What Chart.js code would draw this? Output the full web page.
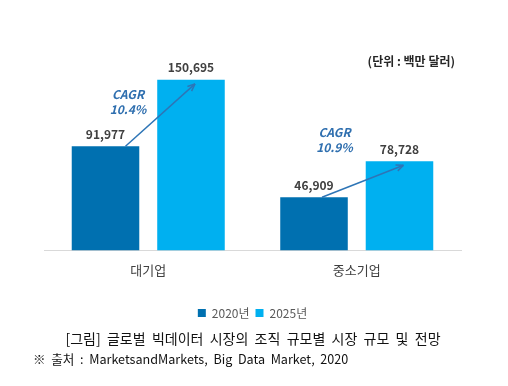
<!DOCTYPE html>
<html>
<head>
<meta charset="utf-8">
<script src="https://cdn.jsdelivr.net/npm/chart.js@4.4.1/dist/chart.umd.min.js"></script>
<style>
  html, body { margin: 0; padding: 0; background: #fff; }
  canvas { display: block; }
</style>
</head>
<body>
<canvas id="chart" width="508" height="386"></canvas>
<script>
const categories = ['대기업', '중소기업']
const seriesNames = ['2020년', '2025년']
const values2020 = [91977, 46909]
const values2025 = [150695, 78728]
const cagr = ['10.4%', '10.9%']
const unitText = '(단위 : 백만 달러)'
const caption = '[그림]  글로벌  빅데이터  시장의  조직  규모별  시장  규모  및  전망'
const source = '※  출처  :  MarketsandMarkets,  Big  Data  Market,  2020'

const KR = '"Noto Sans CJK KR", "Noto Sans", sans-serif'

// offsets of the CAGR text from the 2025 bar top, per group
const cagrOffset = [[-63, 15], [-65, -29]]

const annotate = {
  id: 'annotate',
  afterDatasetsDraw(chart) {
    const ctx = chart.ctx
    const m0 = chart.getDatasetMeta(0)
    const m1 = chart.getDatasetMeta(1)
    ctx.save()

    // value labels
    ctx.fillStyle = '#404040'
    ctx.font = 'bold 12px ' + KR
    ctx.textAlign = 'center'
    ctx.textBaseline = 'bottom'
    ;[m0, m1].forEach(function(meta, d) {
      meta.data.forEach(function(bar, i) {
        const v = chart.data.datasets[d].data[i]
        ctx.fillText(v.toLocaleString('en-US'), bar.x, bar.y - 6)
      })
    })

    // arrows + CAGR
    for (let i = 0; i < categories.length; i++) {
      const a = m0.data[i], b = m1.data[i]
      const x1 = a.x + (i === 0 ? 20 : 8), y1 = a.y
      const x2 = b.x + 4, y2 = b.y + 4
      ctx.strokeStyle = '#2E75B6'
      ctx.fillStyle = '#2E75B6'
      ctx.lineWidth = 1.5
      ctx.beginPath()
      ctx.moveTo(x1, y1)
      ctx.lineTo(x2, y2)
      ctx.stroke()
      const ang = Math.atan2(y2 - y1, x2 - x1)
      ctx.beginPath()
      ctx.moveTo(x2, y2)
      ctx.lineTo(x2 - 8 * Math.cos(ang - 0.4), y2 - 8 * Math.sin(ang - 0.4))
      ctx.moveTo(x2, y2)
      ctx.lineTo(x2 - 8 * Math.cos(ang + 0.4), y2 - 8 * Math.sin(ang + 0.4))
      ctx.stroke()

      ctx.fillStyle = '#2F6FAF'
      ctx.font = 'italic bold 12px ' + KR
      ctx.textAlign = 'center'
      ctx.textBaseline = 'middle'
      const cx = b.x + cagrOffset[i][0], cy = b.y + cagrOffset[i][1]
      ctx.fillText('CAGR', cx, cy)
      ctx.fillText(cagr[i], cx, cy + 15)
    }

    // unit
    ctx.fillStyle = '#262626'
    ctx.font = 'bold 12px ' + KR
    ctx.textAlign = 'right'
    ctx.textBaseline = 'middle'
    ctx.fillText(unitText, 455, 61)

    // caption and source
    ctx.fillStyle = '#111'
    ctx.font = '14px ' + KR
    ctx.textAlign = 'center'
    ctx.fillText(caption, 253, 339)
    ctx.font = '12.6px ' + KR
    ctx.textAlign = 'left'
    ctx.fillText(source, 33, 359)
    ctx.restore()
  }
}

new Chart(document.getElementById('chart'), {
  type: 'bar',
  data: {
    labels: categories,
    datasets: [
      { label: seriesNames[0], data: values2020, backgroundColor: '#0070B0', categoryPercentage: 0.82, barPercentage: 0.79 },
      { label: seriesNames[1], data: values2025, backgroundColor: '#00B0F0', categoryPercentage: 0.82, barPercentage: 0.79 }
    ]
  },
  options: {
    responsive: false,
    animation: false,
    layout: { padding: { left: 44, right: 47, top: 58, bottom: 57 } },
    scales: {
      x: {
        grid: { display: false },
        border: { color: '#D9D9D9', width: 1 },
        ticks: { color: '#404040', font: { family: KR, size: 13 }, padding: 4 },
        afterFit(scale) { scale.height += 19 }
      },
      y: { display: false, min: 0, max: 170000 }
    },
    plugins: {
      legend: {
        position: 'bottom',
        labels: {
          color: '#595959',
          font: { family: KR, size: 12 },
          boxWidth: 8,
          boxHeight: 8,
          padding: 6
        }
      },
      tooltip: { enabled: false }
    }
  },
  plugins: [annotate]
})
</script>
</body>
</html>
